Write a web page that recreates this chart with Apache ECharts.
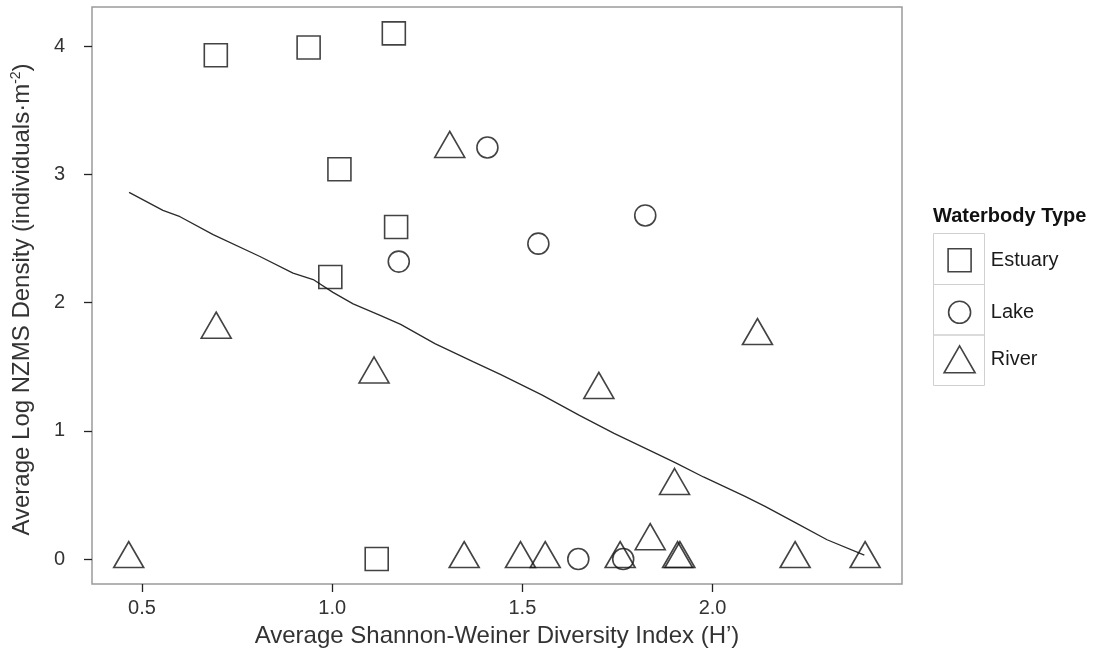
<!DOCTYPE html>
<html><head><meta charset="utf-8">
<script src="https://cdn.jsdelivr.net/npm/echarts@6/dist/echarts.min.js"></script>
<style>html,body{margin:0;padding:0;background:#fff}#c{width:1103px;height:654px}</style>
</head><body><div id="c"></div>
<script>
// ---- data ----
const estuaryX = [0.694, 0.938, 1.162, 1.019, 1.168, 0.995, 1.117];
const estuaryY = [3.93, 3.99, 4.10, 3.04, 2.59, 2.20, 0.00];
const lakeX = [1.408, 1.175, 1.542, 1.823, 1.647, 1.765];
const lakeY = [3.21, 2.32, 2.46, 2.68, 0.00, 0.00];
const riverX = [0.465, 0.695, 1.110, 1.309, 1.701, 2.118, 1.900, 1.836, 1.347, 1.495, 1.560, 1.757, 1.908, 1.914, 2.217, 2.401];
const riverY = [0.00, 1.79, 1.44, 3.20, 1.32, 1.74, 0.57, 0.14, 0.00, 0.00, 0.00, 0.00, 0.00, 0.00, 0.00, 0.00];
const fitX = [0.466, 0.555, 0.600, 0.687, 0.810, 0.897, 0.950, 1.002, 1.055, 1.126, 1.180, 1.270, 1.370, 1.442, 1.551, 1.650, 1.741, 1.840, 1.903, 1.976, 2.084, 2.138, 2.220, 2.301, 2.399];
const fitY = [2.86, 2.72, 2.67, 2.53, 2.36, 2.23, 2.18, 2.08, 1.99, 1.90, 1.83, 1.68, 1.54, 1.44, 1.28, 1.12, 0.98, 0.84, 0.75, 0.64, 0.49, 0.41, 0.28, 0.15, 0.03];
const xTicks = [0.5, 1.0, 1.5, 2.0];
const yTicks = [0, 1, 2, 3, 4];
const seriesNames = ['Estuary', 'Lake', 'River'];
const legendTitle = 'Waterbody Type';
const xTitle = 'Average Shannon-Weiner Diversity Index (H\u2019)';
const yTitle = 'Average Log NZMS Density (individuals\u00b7m{sup|-2})';

// ---- chart ----
const FONT = "'Liberation Sans', Arial, sans-serif";
const zip = (xs, ys) => xs.map((x, i) => [x, ys[i]]);
const mk = {color: 'rgba(0,0,0,0)', borderColor: '#141414', borderWidth: 1.6};
const chart = echarts.init(document.getElementById('c'));

function legendFor(name, w, h, cx, cy, textLeft) {
  const left = cx - w / 2;
  return {
    data: [name], orient: 'vertical', left: left, top: cy - h / 2, padding: 0,
    itemWidth: w, itemHeight: h, symbolKeepAspect: false, selectedMode: false,
    itemStyle: mk,
    textStyle: {fontSize: 20, color: '#1a1a1a', fontFamily: FONT, padding: [0, 0, 0, textLeft - (left + w + 5)]}
  };
}

const option = {
  animation: false,
  backgroundColor: '#fff',
  title: {text: legendTitle, left: 933, top: 206, padding: 0,
    textStyle: {fontSize: 20, fontWeight: 'bold', color: '#111', fontFamily: FONT}},
  grid: {left: 92, right: 201, top: 7, bottom: 70, show: true, borderColor: '#9a9a9a', borderWidth: 1.5, backgroundColor: 'transparent'},
  xAxis: {
    type: 'value', min: 0.3685, max: 2.498,
    axisLine: {show: false, onZero: false}, splitLine: {show: false},
    axisTick: {show: true, customValues: xTicks, length: 8, lineStyle: {color: '#222', width: 1.3}},
    axisLabel: {customValues: xTicks, formatter: v => v.toFixed(1), fontSize: 20, color: '#333', fontFamily: FONT, margin: 14},
    name: xTitle, nameLocation: 'middle', nameGap: 40,
    nameTextStyle: {fontSize: 24, color: '#333', fontFamily: FONT}
  },
  yAxis: {
    type: 'value', min: -0.195, max: 4.306,
    axisLine: {show: false, onZero: false}, splitLine: {show: false},
    axisTick: {show: true, customValues: yTicks, length: 8, lineStyle: {color: '#222', width: 1.3}},
    axisLabel: {customValues: yTicks, formatter: v => String(v), fontSize: 20, color: '#333', fontFamily: FONT, margin: 27},
    name: yTitle, nameLocation: 'middle', nameGap: 57,
    nameTextStyle: {fontSize: 24, color: '#333', fontFamily: FONT, padding: [0, 8, 0, 0],
      rich: {sup: {fontSize: 14, color: '#333', fontFamily: FONT, verticalAlign: 'top', lineHeight: 26}}}
  },
  legend: [
    legendFor(seriesNames[0], 23, 23, 958.8, 259.5, 990),
    legendFor(seriesNames[1], 22, 22, 958.8, 311.5, 990),
    legendFor(seriesNames[2], 31, 27, 958.8, 358.5, 990)
  ],
  graphic: [
    {type: 'rect', shape: {x: 933.5, y: 233.5, width: 51, height: 51}, style: {fill: 'none', stroke: '#d0d0d0', lineWidth: 1}, silent: true},
    {type: 'rect', shape: {x: 933.5, y: 284.5, width: 51, height: 50.5}, style: {fill: 'none', stroke: '#d0d0d0', lineWidth: 1}, silent: true},
    {type: 'rect', shape: {x: 933.5, y: 335, width: 51, height: 50.5}, style: {fill: 'none', stroke: '#d0d0d0', lineWidth: 1}, silent: true}
  ],
  series: [
    {name: 'fit', type: 'line', data: zip(fitX, fitY), showSymbol: false, smooth: false,
      lineStyle: {color: '#2a2a2a', width: 1.3}, z: 1, silent: true},
    {name: seriesNames[0], type: 'scatter', data: zip(estuaryX, estuaryY), symbol: 'rect', symbolSize: 23, itemStyle: mk, z: 3},
    {name: seriesNames[1], type: 'scatter', data: zip(lakeX, lakeY), symbol: 'circle', symbolSize: 21, itemStyle: mk, z: 3},
    {name: seriesNames[2], type: 'scatter', data: zip(riverX, riverY), symbol: 'triangle', symbolSize: [30, 26], symbolOffset: [0, -4.4], itemStyle: mk, z: 3}
  ]
};
chart.setOption(option);
</script></body></html>
